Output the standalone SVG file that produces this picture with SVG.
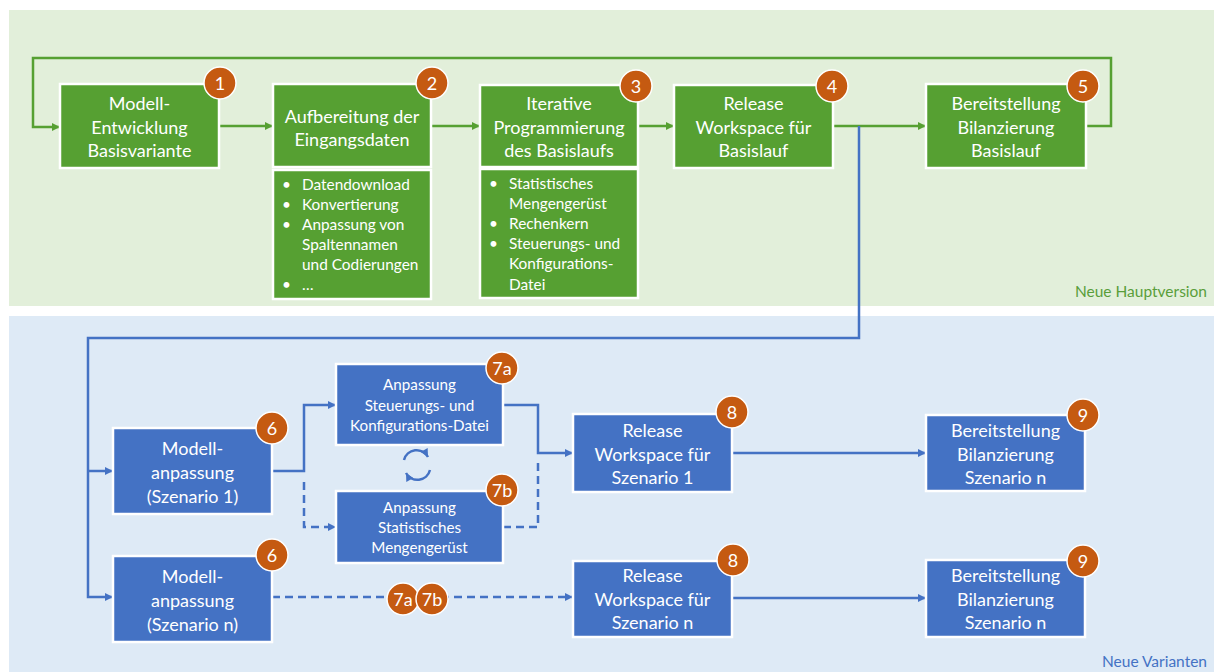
<svg xmlns="http://www.w3.org/2000/svg" width="1214" height="672" viewBox="0 0 1214 672">
<defs>
<style>
.gn{fill:#56A032;stroke:#fff;stroke-width:2.5}
.bn{fill:#4472C4;stroke:#fff;stroke-width:2.5}
.t{font-family:Lato,"Liberation Sans",sans-serif;font-size:18px;fill:#fff;text-anchor:middle}
.ts{font-family:Lato,"Liberation Sans",sans-serif;font-size:15.2px;fill:#fff;text-anchor:middle}
.tb{font-family:Lato,"Liberation Sans",sans-serif;font-size:15.4px;fill:#fff}
.bd circle{fill:#C55A11;stroke:#fff;stroke-width:1.5}
.bd text{font-family:Lato,"Liberation Sans",sans-serif;font-size:18px;fill:#fff;text-anchor:middle}
.lg{fill:none;stroke:#56A032;stroke-width:2.5}
.lb{fill:none;stroke:#4472C4;stroke-width:2.5}
.dash{stroke-dasharray:8 5}
</style>
<marker id="ag" viewBox="0 0 10 10" refX="10" refY="5" markerWidth="9" markerHeight="8" markerUnits="userSpaceOnUse" orient="auto"><path d="M0,0 L10,5 L0,10 z" fill="#56A032"/></marker>
<marker id="ab" viewBox="0 0 10 10" refX="10" refY="5" markerWidth="9" markerHeight="8" markerUnits="userSpaceOnUse" orient="auto"><path d="M0,0 L10,5 L0,10 z" fill="#4472C4"/></marker>
</defs>
<rect x="0" y="0" width="1214" height="672" fill="#fff"/>
<rect id="bg-haupt" x="9" y="10" width="1205" height="296" fill="#E2EFDA"/>
<rect id="bg-var" x="9" y="316" width="1205" height="356" fill="#DEEAF6"/>
<text x="1207" y="297" font-family="Lato,'Liberation Sans',sans-serif" font-size="15.5" fill="#5A9E3A" text-anchor="end">Neue Hauptversion</text>
<text x="1207" y="667" font-family="Lato,'Liberation Sans',sans-serif" font-size="15.5" fill="#4472C4" text-anchor="end">Neue Varianten</text>

<g id="connectors">
<polyline class="lg" points="1086,126 1111,126 1111,58 33,58 33,127 60,127" marker-end="url(#ag)"/>
<line class="lg" x1="219" y1="126" x2="273" y2="126" marker-end="url(#ag)"/>
<line class="lg" x1="431" y1="126" x2="480" y2="126" marker-end="url(#ag)"/>
<line class="lg" x1="638" y1="126" x2="674" y2="126" marker-end="url(#ag)"/>
<line class="lg" x1="833" y1="126" x2="926" y2="126" marker-end="url(#ag)"/>
<polyline class="lb" points="859,126 859,338 88,338 88,597 113,597" marker-end="url(#ab)"/>
<line class="lb" x1="88" y1="471" x2="113" y2="471" marker-end="url(#ab)"/>
<polyline class="lb" points="272,471 304,471 304,405 336,405" marker-end="url(#ab)"/>
<polyline class="lb dash" points="304,482 304,527 336,527" marker-end="url(#ab)"/>
<polyline class="lb" points="503,405 538,405 538,453 573,453" marker-end="url(#ab)"/>
<polyline class="lb dash" points="503,527 538,527 538,460"/>
<line class="lb" x1="732" y1="453" x2="926" y2="453" marker-end="url(#ab)"/>
<line class="lb dash" x1="272" y1="597" x2="573" y2="597" marker-end="url(#ab)"/>
<line class="lb" x1="732" y1="598" x2="926" y2="598" marker-end="url(#ab)"/>
<path class="lb" d="M404,460 A13,13 0 0 1 428,457" marker-end="url(#ab)"/>
<path class="lb" d="M430,470 A13,13 0 0 1 406,473" marker-end="url(#ab)"/>
</g>

<g id="n1"><rect class="gn" x="60" y="84" width="159" height="84"/>
<text class="t" x="139.5" y="109.5">Modell-</text><text class="t" x="139.5" y="133.5">Entwicklung</text><text class="t" x="139.5" y="156.5">Basisvariante</text>
<g class="bd"><circle cx="220" cy="83" r="16"/><text x="220" y="89.5">1</text></g></g>

<g id="n2"><rect class="gn" x="273" y="84" width="158" height="83"/>
<text class="t" x="352" y="122.5">Aufbereitung der</text><text class="t" x="352" y="145.5">Eingangsdaten</text>
<rect class="gn" x="273" y="170" width="158" height="129"/>
<g class="tb"><text x="282" y="190">•</text><text x="302" y="190">Datendownload</text>
<text x="282" y="210">•</text><text x="302" y="210">Konvertierung</text>
<text x="282" y="230">•</text><text x="302" y="230">Anpassung von</text>
<text x="302" y="250">Spaltennamen</text>
<text x="302" y="270">und Codierungen</text>
<text x="282" y="290">•</text><text x="302" y="290">…</text></g>
<g class="bd"><circle cx="432" cy="83" r="16"/><text x="432" y="89.5">2</text></g></g>

<g id="n3"><rect class="gn" x="480" y="85" width="158" height="82"/>
<text class="t" x="559" y="109.5">Iterative</text><text class="t" x="559" y="133.5">Programmierung</text><text class="t" x="559" y="156.5">des Basislaufs</text>
<rect class="gn" x="480" y="169" width="158" height="129"/>
<g class="tb"><text x="489" y="189">•</text><text x="509" y="189">Statistisches</text>
<text x="509" y="209">Mengengerüst</text>
<text x="489" y="229">•</text><text x="509" y="229">Rechenkern</text>
<text x="489" y="249">•</text><text x="509" y="249">Steuerungs- und</text>
<text x="509" y="269">Konfigurations-</text>
<text x="509" y="290">Datei</text></g>
<g class="bd"><circle cx="636" cy="86" r="16"/><text x="636" y="92.5">3</text></g></g>

<g id="n4"><rect class="gn" x="674" y="85" width="159" height="83"/>
<text class="t" x="753.5" y="109.5">Release</text><text class="t" x="753.5" y="133.5">Workspace für</text><text class="t" x="753.5" y="156.5">Basislauf</text>
<g class="bd"><circle cx="832" cy="86" r="16"/><text x="832" y="92.5">4</text></g></g>

<g id="n5"><rect class="gn" x="926" y="84" width="160" height="84"/>
<text class="t" x="1006" y="109.5">Bereitstellung</text><text class="t" x="1006" y="133.5">Bilanzierung</text><text class="t" x="1006" y="156.5">Basislauf</text>
<g class="bd"><circle cx="1083" cy="86" r="16"/><text x="1083" y="92.5">5</text></g></g>

<g id="n6a"><rect class="bn" x="113" y="428" width="159" height="86"/>
<text class="t" x="192.5" y="454.5">Modell-</text><text class="t" x="192.5" y="478.5">anpassung</text><text class="t" x="192.5" y="502.5">(Szenario 1)</text>
<g class="bd"><circle cx="272" cy="428" r="16"/><text x="272" y="434.5">6</text></g></g>

<g id="n6b"><rect class="bn" x="113" y="556" width="159" height="86"/>
<text class="t" x="192.5" y="582.5">Modell-</text><text class="t" x="192.5" y="606.5">anpassung</text><text class="t" x="192.5" y="630.5">(Szenario n)</text>
<g class="bd"><circle cx="272" cy="555" r="16"/><text x="272" y="561.5">6</text></g></g>

<g id="n7a"><rect class="bn" x="336" y="364" width="167" height="81"/>
<text class="ts" x="419.5" y="390">Anpassung</text><text class="ts" x="419.5" y="411">Steuerungs- und</text><text class="ts" x="419.5" y="431">Konfigurations-Datei</text>
<g class="bd"><circle cx="502" cy="368" r="16"/><text x="502" y="374.5">7a</text></g></g>

<g id="n7b"><rect class="bn" x="336" y="491" width="167" height="72"/>
<text class="ts" x="419.5" y="513">Anpassung</text><text class="ts" x="419.5" y="533">Statistisches</text><text class="ts" x="419.5" y="553">Mengengerüst</text>
<g class="bd"><circle cx="502" cy="490" r="16"/><text x="502" y="496.5">7b</text></g></g>

<g id="badges-7ab-n"><g class="bd"><circle cx="403" cy="599" r="16"/><text x="403" y="605.5">7a</text></g>
<g class="bd"><circle cx="432" cy="599" r="16"/><text x="432" y="605.5">7b</text></g></g>

<g id="n8a"><rect class="bn" x="573" y="414" width="159" height="78"/>
<text class="t" x="652.5" y="436.5">Release</text><text class="t" x="652.5" y="460.5">Workspace für</text><text class="t" x="652.5" y="483.5">Szenario 1</text>
<g class="bd"><circle cx="732" cy="412" r="16"/><text x="732" y="418.5">8</text></g></g>

<g id="n8b"><rect class="bn" x="573" y="561" width="159" height="76"/>
<text class="t" x="652.5" y="581.5">Release</text><text class="t" x="652.5" y="605.5">Workspace für</text><text class="t" x="652.5" y="628.5">Szenario n</text>
<g class="bd"><circle cx="733" cy="560" r="16"/><text x="733" y="566.5">8</text></g></g>

<g id="n9a"><rect class="bn" x="926" y="415" width="159" height="76"/>
<text class="t" x="1005.5" y="436.5">Bereitstellung</text><text class="t" x="1005.5" y="460.5">Bilanzierung</text><text class="t" x="1005.5" y="483.5">Szenario n</text>
<g class="bd"><circle cx="1083" cy="415" r="16"/><text x="1083" y="421.5">9</text></g></g>

<g id="n9b"><rect class="bn" x="926" y="560" width="159" height="77"/>
<text class="t" x="1005.5" y="581.5">Bereitstellung</text><text class="t" x="1005.5" y="605.5">Bilanzierung</text><text class="t" x="1005.5" y="628.5">Szenario n</text>
<g class="bd"><circle cx="1083" cy="561" r="16"/><text x="1083" y="567.5">9</text></g></g>
</svg>
